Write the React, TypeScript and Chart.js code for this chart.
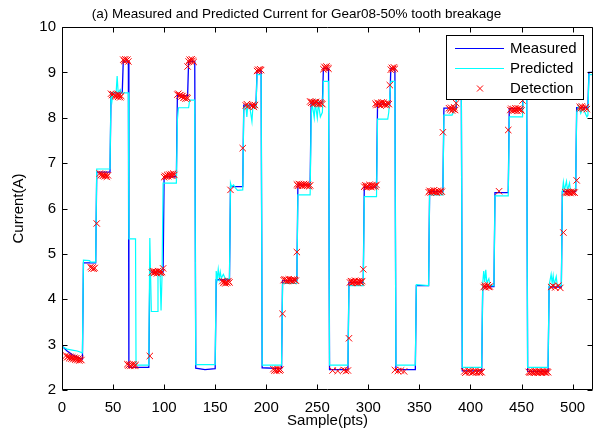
import React, { useEffect, useRef } from "react";
import { Chart, registerables } from "chart.js";

Chart.register(...registerables);

const FONT = "'Liberation Sans', Arial, Helvetica, sans-serif";

const titleText = "(a) Measured and Predicted Current for Gear08-50% tooth breakage";
const xAxisLabel = "Sample(pts)";
const yAxisLabel = "Current(A)";
const seriesLabels = ["Measured", "Predicted", "Detection"];
const xTickValues = [0, 50, 100, 150, 200, 250, 300, 350, 400, 450, 500];
const yTickValues = [2, 3, 4, 5, 6, 7, 8, 9, 10];

// Measured current: corner points of the step signal [sample, A]
const measuredPts: [number, number][] = [
  [0, 2.97], [5, 2.86], [10, 2.78], [15, 2.72], [20, 2.68], [21, 4.8], [33, 4.8], [34, 6.8], [47, 6.8],
  [48, 8.55], [59, 8.55], [60, 9.25], [65, 9.25], [65.5, 2.5], [85, 2.5], [86, 4.6], [99, 4.6], [100, 6.7],
  [112, 6.7], [113, 8.5], [123, 8.48], [124, 9.24], [130, 9.24], [131, 2.48], [140, 2.45], [150, 2.47],
  [151, 4.43], [164, 4.43], [165, 6.48], [177, 6.48], [178, 8.28], [190, 8.28], [191, 9.04], [195, 9.04],
  [196, 2.49], [215, 2.47], [216, 4.41], [230, 4.41], [231, 6.52], [243, 6.52], [244, 8.33], [255, 8.33],
  [256, 9.09], [261, 9.09], [262, 2.45], [280, 2.45], [281, 4.37], [295, 4.37], [296, 6.47], [308, 6.47],
  [309, 8.3], [321, 8.3], [322, 9.09], [326, 9.09], [327, 2.45], [346, 2.45], [347, 4.3], [359, 4.3],
  [360, 6.37], [373, 6.37], [374, 8.21], [386, 8.21], [387, 9.0], [391, 9.0], [392, 2.42], [411, 2.42],
  [412, 4.28], [423, 4.28], [424, 6.35], [437, 6.35], [438, 8.2], [451, 8.2], [452, 9.0], [455, 9.0],
  [456, 2.41], [476, 2.41], [477, 4.27], [489, 4.27], [490, 6.37], [503, 6.37], [504, 8.22], [515, 8.22],
  [516, 9.0], [520, 9.0],
];

// Predicted current [sample, A]
const predictedPts: [number, number][] = [
  [0, 2.95], [5, 2.9], [10, 2.88], [15, 2.86], [20, 2.82], [21, 4.86], [27, 4.85], [28, 4.82], [33, 4.82],
  [34, 6.87], [47, 6.87], [48, 8.56], [49, 8.38], [50, 8.56], [53, 8.55], [54, 8.92], [55, 8.55], [57, 8.62],
  [58, 8.55], [65, 8.55], [65.5, 5.33], [72, 5.33], [72.5, 2.55], [85, 2.55], [86, 5.35], [87.5, 3.73],
  [93.5, 3.73], [94, 4.6], [96, 4.6], [97, 3.75], [98, 4.55], [99, 6.56], [112, 6.56], [113, 7.95],
  [114, 8.22], [124, 8.22], [125, 8.39], [130, 8.39], [131, 2.56], [150, 2.56], [151, 4.62], [152, 4.45],
  [153, 4.66], [154, 4.45], [155, 4.6], [156, 4.46], [158, 4.55], [160, 4.45], [164, 4.45], [165, 6.56],
  [166, 6.48], [168, 6.52], [170, 6.45], [172, 6.4], [177, 6.41], [178, 8.22], [180, 8.28], [181, 8.02],
  [182, 8.3], [184, 8.22], [186, 7.92], [187, 8.26], [190, 8.22], [191, 8.95], [195, 8.95], [196, 2.55],
  [215, 2.55], [216, 4.35], [230, 4.35], [231, 6.3], [243, 6.3], [244, 8.02], [245, 8.32], [247, 8.0],
  [248, 8.32], [250, 8.0], [251, 8.32], [253, 8.02], [255, 8.12], [256, 8.8], [261, 8.8], [262, 2.55],
  [280, 2.55], [281, 4.3], [295, 4.3], [296, 6.26], [308, 6.26], [309, 7.97], [319, 7.97], [320, 8.12],
  [322, 8.8], [326, 8.8], [327, 2.55], [346, 2.55], [347, 4.32], [359, 4.3], [360, 6.3], [373, 6.3],
  [374, 8.06], [382, 8.06], [384, 8.16], [386, 8.3], [387, 8.9], [391, 8.9], [392, 2.5], [411, 2.5],
  [412, 4.35], [413, 4.62], [414, 4.38], [415, 4.65], [416, 4.36], [418, 4.45], [419, 4.3], [423, 4.3],
  [424, 6.28], [437, 6.28], [438, 8.02], [451, 8.02], [452, 8.9], [455, 8.9], [456, 2.5], [476, 2.5],
  [477, 4.3], [479, 4.55], [480, 4.35], [481, 4.52], [482, 4.32], [484, 4.5], [485, 4.3], [489, 4.3],
  [490, 6.38], [491, 6.58], [492, 6.4], [494, 6.6], [495, 6.4], [497, 6.56], [498, 6.38], [503, 6.4],
  [504, 8.12], [506, 8.26], [508, 8.1], [510, 8.22], [512, 8.12], [514, 8.02], [515, 8.05], [516, 8.95],
  [520, 8.95],
];

// Detection markers [sample, A]
const detectionPts: [number, number][] = [
  [4, 2.76], [5, 2.72], [6, 2.74], [7, 2.7], [8, 2.73], [9, 2.69], [10, 2.72], [11, 2.68], [12, 2.71],
  [13, 2.67], [14, 2.7], [15, 2.66], [16, 2.69], [17, 2.65], [18, 2.68], [19, 2.66],
  [28, 4.71], [29, 4.68], [30, 4.7], [31, 4.67], [32, 4.69], [34, 5.67],
  [37, 6.77], [38, 6.73], [39, 6.76], [40, 6.72], [41, 6.75], [42, 6.71], [43, 6.74], [44, 6.7], [45, 6.73],
  [48, 8.53], [49, 8.5], [50, 8.52], [52, 8.49], [53, 8.47], [54, 8.51], [55, 8.46], [56, 8.5], [57, 8.45], [58, 8.48],
  [60, 9.28], [61, 9.25], [62, 9.29], [63, 9.26], [64, 9.28], [65, 9.24],
  [64, 2.57], [65, 2.54], [66, 2.56], [67, 2.53], [68, 2.56], [69, 2.54], [70, 2.57], [71, 2.53], [72, 2.55],
  [86, 2.75],
  [88, 4.59], [89, 4.62], [90, 4.58], [91, 4.61], [92, 4.6], [93, 4.57], [94, 4.62], [95, 4.59], [96, 4.61],
  [97, 4.58], [98, 4.6], [99, 4.68],
  [100, 6.69], [101, 6.72], [102, 6.7], [103, 6.74], [104, 6.71], [105, 6.75], [106, 6.73], [107, 6.76],
  [108, 6.72], [109, 6.77], [110, 6.74],
  [113, 8.51], [114, 8.53], [115, 8.49], [116, 8.5], [117, 8.47], [118, 8.48], [119, 8.44], [120, 8.46],
  [121, 8.42], [122, 8.45], [123, 8.43], [123, 9.13],
  [124, 9.24], [125, 9.28], [126, 9.25], [127, 9.29], [128, 9.26], [129, 9.23],
  [157, 4.4], [158, 4.36], [159, 4.39], [160, 4.35], [161, 4.38], [162, 4.36], [163, 4.4], [164, 4.37],
  [165, 6.41], [177, 7.33],
  [180, 8.27], [181, 8.3], [182, 8.25], [186, 8.26], [187, 8.29], [188, 8.24], [189, 8.28],
  [191, 9.03], [192, 9.06], [193, 9.04], [194, 9.07], [195, 9.05],
  [207, 2.46], [208, 2.43], [209, 2.45], [210, 2.42], [211, 2.46], [212, 2.44], [213, 2.43], [214, 2.45],
  [216, 3.68],
  [217, 4.42], [218, 4.44], [219, 4.41], [220, 4.43], [221, 4.4], [222, 4.44], [223, 4.42], [224, 4.41],
  [225, 4.43], [226, 4.4], [227, 4.44], [228, 4.42], [229, 4.41], [230, 5.04],
  [230, 6.53], [231, 6.5], [232, 6.54], [233, 6.51], [234, 6.53], [235, 6.5], [236, 6.52], [237, 6.54],
  [238, 6.51], [239, 6.53], [240, 6.5], [241, 6.52], [242, 6.49], [243, 6.51],
  [243, 8.36], [244, 8.33], [245, 8.35], [246, 8.31], [247, 8.34], [248, 8.32], [249, 8.35], [250, 8.31],
  [251, 8.33], [252, 8.3], [253, 8.34], [254, 8.32], [255, 8.3],
  [256, 9.07], [257, 9.12], [258, 9.09], [259, 9.13], [260, 9.1], [261, 9.08],
  [265, 2.43], [270, 2.42], [276, 2.44], [278, 2.42], [280, 2.43], [281, 3.14],
  [282, 4.37], [283, 4.4], [284, 4.36], [285, 4.39], [286, 4.38], [287, 4.41], [288, 4.37], [289, 4.39],
  [290, 4.36], [291, 4.4], [292, 4.38], [293, 4.37], [294, 4.4], [295, 4.66],
  [296, 6.48], [297, 6.51], [298, 6.47], [299, 6.5], [300, 6.48], [301, 6.52], [302, 6.49], [303, 6.47],
  [304, 6.51], [305, 6.48], [306, 6.5], [307, 6.49], [308, 6.52],
  [307, 8.31], [308, 8.28], [309, 8.33], [310, 8.29], [311, 8.32], [312, 8.27], [313, 8.34], [314, 8.3],
  [315, 8.33], [316, 8.29], [317, 8.31], [318, 8.28], [319, 8.32], [320, 8.3], [321, 8.72],
  [322, 9.06], [323, 9.1], [324, 9.07], [325, 9.11], [326, 9.08],
  [326, 2.44], [329, 2.42], [332, 2.43], [335, 2.41],
  [359, 6.36], [360, 6.39], [361, 6.35], [362, 6.38], [363, 6.37], [364, 6.4], [365, 6.36], [366, 6.38],
  [367, 6.35], [368, 6.39], [369, 6.37], [370, 6.36], [371, 6.39], [372, 6.37], [373, 7.68],
  [379, 8.21], [380, 8.18], [381, 8.22], [382, 8.16], [383, 8.19], [384, 8.23], [385, 8.17], [386, 8.32],
  [394, 2.41], [395, 2.38], [396, 2.4], [398, 2.42], [399, 2.39], [400, 2.41], [402, 2.38], [403, 2.4],
  [405, 2.42], [406, 2.39], [408, 2.41], [409, 2.38], [410, 2.4], [411, 2.39],
  [413, 4.27], [414, 4.3], [415, 4.26], [416, 4.29], [417, 4.31], [418, 4.27], [419, 4.28],
  [428, 6.38], [437, 7.73],
  [439, 8.17], [440, 8.2], [441, 8.15], [442, 8.19], [443, 8.16], [444, 8.21], [445, 8.18], [446, 8.15],
  [447, 8.2], [448, 8.17], [449, 8.19], [450, 8.16], [451, 8.38],
  [457, 2.4], [458, 2.38], [459, 2.41], [460, 2.39], [461, 2.4], [462, 2.38], [463, 2.41], [464, 2.39],
  [465, 2.4], [466, 2.38], [467, 2.41], [468, 2.39], [469, 2.4], [470, 2.38], [471, 2.41], [472, 2.39],
  [473, 2.4], [474, 2.38], [475, 2.41], [476, 2.39],
  [479, 4.27], [481, 4.29], [483, 4.26], [486, 4.3], [488, 4.25], [491, 5.47],
  [493, 6.36], [494, 6.34], [495, 6.37], [496, 6.35], [497, 6.36], [498, 6.34], [499, 6.37], [500, 6.35],
  [501, 6.36], [502, 6.35], [504, 6.62],
  [507, 8.24], [508, 8.21], [509, 8.25], [510, 8.22], [511, 8.2], [513, 8.23], [514, 8.19],
];

const measuredColor = "#0000ff";
const predictedColor = "#00ffff";
const detectionColor = "#ff0000";

const matlabAxesPlugin = {
  id: "matlabAxes",
  afterDatasetsDraw(chart: any) {
    const { ctx, chartArea: a, scales } = chart;
    const L = Math.round(a.left) + 0.5;
    const R = Math.round(a.right) - 0.5;
    const T = Math.round(a.top) + 0.5;
    const B = Math.round(a.bottom) - 0.5;
    ctx.save();
    ctx.strokeStyle = "#000";
    ctx.lineWidth = 1;
    ctx.beginPath();
    ctx.rect(L, T, R - L, B - T);
    const tl = 5;
    scales.x.ticks.forEach((t: any) => {
      const px = Math.round(scales.x.getPixelForValue(t.value)) + 0.5;
      ctx.moveTo(px, B);
      ctx.lineTo(px, B - tl);
      ctx.moveTo(px, T);
      ctx.lineTo(px, T + tl);
    });
    scales.y.ticks.forEach((t: any) => {
      const py = Math.round(scales.y.getPixelForValue(t.value)) + 0.5;
      ctx.moveTo(L, py);
      ctx.lineTo(L + tl, py);
      ctx.moveTo(R, py);
      ctx.lineTo(R - tl, py);
    });
    ctx.stroke();

    // legend box
    const bx = 446.5, by = 35.5, bw = 137, bh = 64;
    ctx.fillStyle = "#fff";
    ctx.fillRect(bx, by, bw, bh);
    ctx.strokeRect(bx, by, bw, bh);
    const rows = [48.5, 68.5, 88.5];
    ctx.font = `15px ${FONT}`;
    ctx.textBaseline = "middle";
    ctx.textAlign = "left";
    ctx.lineWidth = 1;
    ctx.strokeStyle = measuredColor;
    ctx.beginPath();
    ctx.moveTo(455, rows[0]);
    ctx.lineTo(504, rows[0]);
    ctx.stroke();
    ctx.strokeStyle = predictedColor;
    ctx.beginPath();
    ctx.moveTo(455, rows[1]);
    ctx.lineTo(504, rows[1]);
    ctx.stroke();
    ctx.strokeStyle = detectionColor;
    ctx.beginPath();
    ctx.moveTo(477, rows[2] - 3);
    ctx.lineTo(483, rows[2] + 3);
    ctx.moveTo(477, rows[2] + 3);
    ctx.lineTo(483, rows[2] - 3);
    ctx.stroke();
    ctx.fillStyle = "#000";
    seriesLabels.forEach((s, i) => ctx.fillText(s, 510, rows[i] + 0.5));
    ctx.restore();
  },
};

export default function App() {
  const ref = useRef<HTMLCanvasElement>(null);
  useEffect(() => {
    const canvas = ref.current;
    if (!canvas) return;
    const toXY = (pts: [number, number][]) => pts.map(([x, y]) => ({ x, y }));
    const chart = new Chart(canvas, {
      type: "scatter",
      data: {
        datasets: [
          {
            label: seriesLabels[0],
            data: toXY(measuredPts),
            showLine: true,
            borderColor: measuredColor,
            backgroundColor: measuredColor,
            borderWidth: 1.3,
            pointRadius: 0,
            tension: 0,
            order: 3,
          },
          {
            label: seriesLabels[1],
            data: toXY(predictedPts),
            showLine: true,
            borderColor: predictedColor,
            backgroundColor: predictedColor,
            borderWidth: 1.2,
            pointRadius: 0,
            tension: 0,
            order: 2,
          },
          {
            label: seriesLabels[2],
            data: toXY(detectionPts),
            showLine: false,
            pointStyle: "crossRot",
            pointRadius: 4.5,
            borderColor: detectionColor,
            backgroundColor: detectionColor,
            borderWidth: 1,
            order: 1,
          },
        ],
      } as any,
      options: {
        animation: false,
        responsive: false,
        devicePixelRatio: 1,
        layout: { padding: { left: 0, right: 14, top: 0, bottom: 0 } },
        plugins: {
          legend: { display: false },
          tooltip: { enabled: false },
          title: {
            display: true,
            text: titleText,
            color: "#000",
            font: { family: FONT, size: 13.5, weight: "normal" },
            padding: { top: 6, bottom: 4.8 },
          },
        },
        scales: {
          x: {
            type: "linear",
            min: 0,
            max: 520,
            afterBuildTicks: (s: any) => {
              s.ticks = xTickValues.map((v) => ({ value: v }));
            },
            afterFit: (s: any) => {
              s.height = 43;
            },
            grid: { display: false, drawTicks: false },
            border: { display: false },
            ticks: {
              color: "#000",
              font: { family: FONT, size: 15 },
              padding: 9,
              maxRotation: 0,
              autoSkip: false,
            },
            title: {
              display: true,
              text: xAxisLabel,
              color: "#000",
              font: { family: FONT, size: 15 },
              padding: { top: 0, bottom: 3 },
            },
          },
          y: {
            type: "linear",
            min: 2,
            max: 10,
            afterBuildTicks: (s: any) => {
              s.ticks = yTickValues.map((v) => ({ value: v }));
            },
            afterFit: (s: any) => {
              s.width = 62;
            },
            grid: { display: false, drawTicks: false },
            border: { display: false },
            ticks: {
              color: "#000",
              font: { family: FONT, size: 15 },
              padding: 6,
              autoSkip: false,
            },
            title: {
              display: true,
              text: yAxisLabel,
              color: "#000",
              font: { family: FONT, size: 15 },
              padding: { top: 10, bottom: 0 },
            },
          },
        },
      } as any,
      plugins: [matlabAxesPlugin],
    });
    return () => chart.destroy();
  }, []);
  return (
    <div style={{ position: "fixed", left: 0, top: 0, width: 607, height: 433, background: "#fff" }}>
      <canvas ref={ref} width={607} height={433} style={{ display: "block", width: 607, height: 433 }} />
    </div>
  );
}
